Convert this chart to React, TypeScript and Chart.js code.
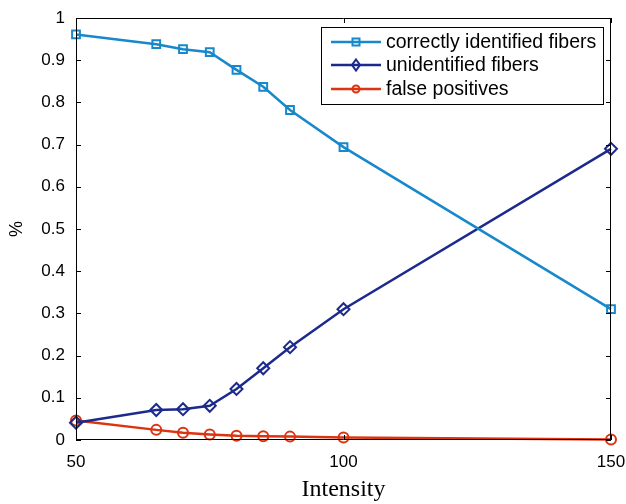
import React, { useEffect, useRef } from "react";
import { Chart, registerables } from "chart.js";

Chart.register(...registerables);

const intensity = [50, 65, 70, 75, 80, 85, 90, 100, 150];
const correctlyIdentified = [0.961, 0.938, 0.926, 0.919, 0.877, 0.837, 0.782, 0.694, 0.310];
const unidentified = [0.041, 0.071, 0.073, 0.081, 0.121, 0.170, 0.220, 0.310, 0.690];
const falsePositives = [0.046, 0.024, 0.017, 0.013, 0.010, 0.009, 0.008, 0.006, 0.001];
const seriesLabels = ["correctly identified fibers", "unidentified fibers", "false positives"];
const xTicks = [50, 100, 150];
const yTicks = [0, 0.1, 0.2, 0.3, 0.4, 0.5, 0.6, 0.7, 0.8, 0.9, 1];

const COLORS = ["#1788cb", "#1b2a8c", "#dc3310"];
const STYLES = ["rect", "rectRot", "circle"];
const RADII = [5.5, 6, 5];

const W = 626;
const H = 504;
const AREA = { left: 76, top: 18, right: 611, bottom: 440 };

const framePlugin = {
  id: "frame",
  afterDatasetsDraw(chart: any) {
    const ctx = chart.ctx;
    const { left, top, right, bottom } = chart.chartArea;
    const xs = chart.scales.x;
    const ys = chart.scales.y;
    ctx.save();
    ctx.strokeStyle = "#000";
    ctx.lineWidth = 1;
    ctx.beginPath();
    ctx.rect(left + 0.5, top + 0.5, right - left - 1, bottom - top - 1);
    ctx.stroke();
    const tl = 5;
    ctx.beginPath();
    for (const v of xTicks) {
      const px = Math.round(xs.getPixelForValue(v)) + 0.5;
      ctx.moveTo(px, bottom);
      ctx.lineTo(px, bottom - tl);
      ctx.moveTo(px, top);
      ctx.lineTo(px, top + tl);
    }
    for (const v of yTicks) {
      const py = Math.round(ys.getPixelForValue(v)) + 0.5;
      ctx.moveTo(left, py);
      ctx.lineTo(left + tl, py);
      ctx.moveTo(right, py);
      ctx.lineTo(right - tl, py);
    }
    ctx.stroke();
    ctx.restore();
  },
};

const legendPlugin = {
  id: "customLegend",
  afterDraw(chart: any) {
    const ctx = chart.ctx;
    const bx = 321, by = 27, bw = 282, bh = 77;
    ctx.save();
    ctx.fillStyle = "#fff";
    ctx.fillRect(bx, by, bw, bh);
    ctx.strokeStyle = "#000";
    ctx.lineWidth = 1;
    ctx.strokeRect(bx + 0.5, by + 0.5, bw, bh);
    const rows = [42, 65, 89];
    chart.data.datasets.forEach((ds: any, i: number) => {
      const y = rows[i];
      ctx.strokeStyle = ds.borderColor;
      ctx.lineWidth = 2.5;
      ctx.beginPath();
      ctx.moveTo(331, y);
      ctx.lineTo(381, y);
      ctx.stroke();
      ctx.lineWidth = 2;
      ctx.beginPath();
      const r = RADII[i] - 1;
      if (STYLES[i] === "rect") {
        ctx.rect(356 - 3.5, y - 3.5, 7, 7);
      } else if (STYLES[i] === "rectRot") {
        ctx.moveTo(356, y - 5.5);
        ctx.lineTo(360, y);
        ctx.lineTo(356, y + 5.5);
        ctx.lineTo(352, y);
        ctx.closePath();
      } else {
        ctx.arc(356, y, r - 0.5, 0, Math.PI * 2);
      }
      ctx.stroke();
      ctx.fillStyle = "#000";
      ctx.font = "19.5px 'Liberation Sans', Arial, sans-serif";
      ctx.textBaseline = "middle";
      ctx.textAlign = "left";
      ctx.fillText(ds.label, 386, y + 1);
    });
    ctx.restore();
  },
};

export default function App() {
  const ref = useRef<HTMLCanvasElement | null>(null);
  useEffect(() => {
    document.body.style.margin = "0";
    const canvas = ref.current!;
    const data = [correctlyIdentified, unidentified, falsePositives];
    const chart = new Chart(canvas, {
      type: "line",
      data: {
        datasets: data.map((vals, i) => ({
          label: seriesLabels[i],
          data: intensity.map((x, j) => ({ x, y: vals[j] })),
          borderColor: COLORS[i],
          backgroundColor: COLORS[i],
          borderWidth: 2.5,
          pointStyle: STYLES[i] as any,
          pointRadius: RADII[i],
          pointBorderWidth: 2,
          pointBorderColor: COLORS[i],
          pointBackgroundColor: "rgba(255,255,255,0)",
          tension: 0,
          clip: false as any,
        })),
      },
      options: {
        responsive: false,
        animation: false,
        devicePixelRatio: 1,
        layout: { padding: { left: 0, top: AREA.top, right: W - AREA.right, bottom: 0 } },
        plugins: { legend: { display: false }, tooltip: { enabled: false } },
        scales: {
          x: {
            type: "linear",
            min: 50,
            max: 150,
            afterBuildTicks: (s: any) => {
              s.ticks = xTicks.map((v) => ({ value: v }));
            },
            grid: { display: false },
            border: { display: false },
            ticks: {
              color: "#000",
              font: { family: "'Liberation Sans', Arial, sans-serif", size: 17 },
              padding: 4,
              maxRotation: 0,
            },
            title: {
              display: true,
              text: "Intensity",
              color: "#000",
              font: { family: "'Liberation Serif', 'Times New Roman', serif", size: 24 },
              padding: { top: 2, bottom: 0 },
            },
            afterFit: (s: any) => {
              s.height = H - AREA.bottom;
              s.paddingLeft = 0;
              s.paddingRight = 0;
            },
          },
          y: {
            type: "linear",
            min: 0,
            max: 1,
            afterBuildTicks: (s: any) => {
              s.ticks = yTicks.map((v) => ({ value: v }));
            },
            grid: { display: false },
            border: { display: false },
            ticks: {
              color: "#000",
              font: { family: "'Liberation Sans', Arial, sans-serif", size: 17 },
              padding: 3,
              callback: (v: any) => String(Math.round(Number(v) * 10) / 10),
            },
            title: {
              display: true,
              text: "%",
              color: "#000",
              font: { family: "'Liberation Sans', Arial, sans-serif", size: 18 },
              padding: { top: 6, bottom: 0 },
            },
            afterFit: (s: any) => {
              s.width = AREA.left;
              s.paddingTop = 0;
              s.paddingBottom = 0;
            },
          },
        },
      },
      plugins: [framePlugin, legendPlugin],
    });
    return () => chart.destroy();
  }, []);
  return (
    <div style={{ width: W, height: H, background: "#fff" }}>
      <canvas ref={ref} width={W} height={H} style={{ display: "block" }} />
    </div>
  );
}
